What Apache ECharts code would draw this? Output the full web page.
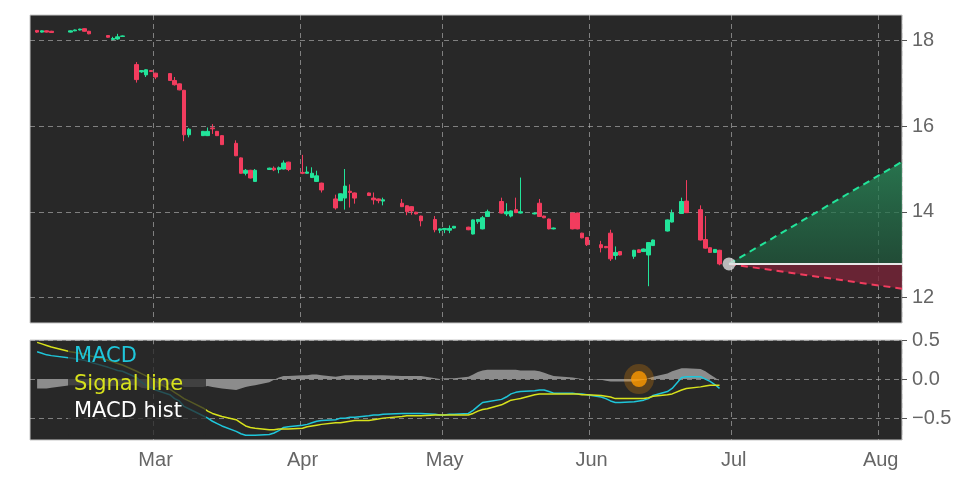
<!doctype html>
<html>
<head>
<meta charset="utf-8" />
<title>Price and MACD</title>
<script src="https://cdn.jsdelivr.net/npm/echarts@6/dist/echarts.min.js"></script>
<style>
  html, body { margin: 0; padding: 0; background: #fff; }
  #main { width: 972px; height: 486px; }
</style>
</head>
<body>
<div id="main"></div>
<script>
// trading days (2024) and candles [open, close, low, high]
var tradeDays = [
  '02-05','02-06','02-07','02-08','02-12','02-13','02-14','02-15','02-16',
  '02-20','02-21','02-22','02-23','02-26','02-27','02-28','02-29','03-01',
  '03-04','03-05','03-06','03-07','03-08','03-11','03-12','03-13','03-14','03-15',
  '03-18','03-19','03-20','03-21','03-22','03-25','03-26','03-27','03-28','03-29',
  '04-01','04-02','04-03','04-04','04-05','04-08','04-09','04-10','04-11','04-12',
  '04-15','04-16','04-17','04-18','04-22','04-23','04-24','04-25','04-26',
  '04-29','04-30','05-01','05-02','05-03','05-06','05-07','05-08','05-09','05-10',
  '05-13','05-14','05-15','05-16','05-17','05-20','05-21','05-22','05-23','05-24',
  '05-28','05-29','05-30','05-31','06-03','06-04','06-05','06-06','06-07',
  '06-10','06-11','06-12','06-13','06-14','06-17','06-18','06-20','06-21',
  '06-24','06-25','06-26','06-27','06-28'
];
var candles = [
  [18.24,18.20,18.18,18.25],[18.20,18.23,18.19,18.24],[18.23,18.20,18.19,18.24],[18.22,18.19,18.18,18.23],
  [18.20,18.23,18.19,18.24],[18.23,18.25,18.22,18.26],[18.25,18.27,18.24,18.28],[18.28,18.22,18.21,18.29],[18.22,18.16,18.15,18.23],
  [18.12,18.08,18.07,18.13],[18.03,18.05,18.01,18.09],[18.04,18.09,18.02,18.16],[18.10,18.11,18.09,18.12],
  [17.44,17.09,17.02,17.50],[17.27,17.30,17.25,17.31],[17.20,17.32,17.15,17.33],[17.30,17.28,17.27,17.31],[17.24,17.15,17.10,17.25],
  [17.23,17.07,17.06,17.24],[17.07,16.97,16.95,17.15],[16.99,16.85,16.84,17.00],[16.84,15.80,15.65,16.85],[15.80,15.93,15.74,15.96],
  [15.78,15.88,15.77,15.89],[15.78,15.88,15.77,15.97],[15.96,15.94,15.82,16.05],[15.88,15.78,15.77,15.89],[15.78,15.57,15.56,15.79],
  [15.60,15.31,15.30,15.67],[15.26,14.90,14.89,15.27],[14.90,14.97,14.85,15.00],[14.97,14.79,14.78,14.98],[14.71,14.97,14.70,15.00],
  [14.99,15.02,14.98,15.03],[15.02,14.98,14.95,15.06],[14.99,15.03,14.90,15.06],[15.00,15.14,14.99,15.20],[15.16,14.99,14.95,15.17],
  [14.92,14.90,14.88,15.33],[14.90,14.93,14.89,15.06],[14.80,14.90,14.79,15.04],[14.71,14.84,14.70,14.96],[14.67,14.51,14.45,14.68],
  [14.30,14.09,14.05,14.40],[14.26,14.42,14.25,14.43],[14.32,14.60,14.05,15.00],[14.48,14.45,14.10,14.64],[14.44,14.32,14.19,14.45],
  [14.44,14.38,14.37,14.45],[14.32,14.28,14.17,14.45],[14.30,14.26,14.20,14.31],[14.25,14.28,14.15,14.33],
  [14.20,14.12,14.11,14.30],[14.14,14.00,13.92,14.15],[14.12,14.02,13.93,14.13],[13.99,13.95,13.94,14.00],[13.90,13.79,13.66,13.91],
  [13.82,13.58,13.52,13.90],[13.57,13.60,13.50,13.61],[13.58,13.61,13.50,13.62],[13.57,13.61,13.50,13.68],[13.62,13.66,13.61,13.67],
  [13.64,13.58,13.57,13.65],[13.48,13.81,13.47,13.82],[13.77,13.82,13.72,13.83],[13.60,13.86,13.59,13.90],[13.89,14.00,13.88,14.05],
  [14.24,13.97,13.96,14.33],[13.95,14.00,13.90,14.20],[13.90,14.02,13.87,14.03],[14.05,13.98,13.97,14.33],[13.97,14.00,13.96,14.80],
  [13.95,13.97,13.94,13.98],[14.20,13.89,13.88,14.30],[13.90,13.86,13.85,13.91],[13.83,13.60,13.59,13.84],[13.60,13.62,13.59,13.63],
  [13.97,13.60,13.59,13.98],[13.97,13.60,13.59,13.98],[13.50,13.39,13.38,13.51],[13.40,13.23,13.20,13.41],
  [13.23,13.16,13.05,13.32],[13.19,13.16,13.15,13.20],[13.50,12.90,12.85,13.58],[12.98,13.05,12.88,13.19],[13.07,12.99,12.98,13.08],
  [12.96,13.10,12.90,13.11],[13.11,13.05,13.04,13.12],[13.07,13.13,13.06,13.14],[12.99,13.28,12.26,13.29],[13.21,13.34,13.20,13.35],
  [13.55,13.81,13.54,13.82],[13.76,13.97,13.75,14.05],[13.96,14.24,13.95,14.33],[14.25,13.98,13.97,14.74],
  [14.05,13.34,13.33,14.15],[13.35,13.15,13.14,13.90],[13.16,13.05,13.04,13.17],[13.05,13.12,13.04,13.13],[13.10,12.78,12.75,13.11]
];
var macd = [
  0.35,0.33,0.31,0.30, 0.27,0.26,0.25,0.24,0.22, 0.15,0.13,0.11,0.10,
  0.02,-0.04,-0.08,-0.11,-0.14, -0.20,-0.25,-0.28,-0.35,-0.38, -0.47,-0.50,-0.54,-0.57,-0.60,
  -0.67,-0.70,-0.72,-0.72,-0.72, -0.71,-0.69,-0.66,-0.62,-0.61, -0.59,-0.58,-0.56,-0.54,-0.53,
  -0.52,-0.50,-0.50,-0.49,-0.49, -0.47,-0.46,-0.46,-0.45, -0.44,-0.44,-0.44,-0.44,-0.44,
  -0.45,-0.46,-0.46,-0.45,-0.45, -0.44,-0.40,-0.35,-0.30,-0.29, -0.26,-0.23,-0.19,-0.17,-0.16,
  -0.15,-0.14,-0.14,-0.16,-0.18, -0.18,-0.19,-0.19,-0.20, -0.23,-0.25,-0.28,-0.30,-0.30,
  -0.29,-0.28,-0.27,-0.25,-0.21, -0.16,-0.12,0.02,0.03, 0.03,0.00,-0.03,-0.07,-0.12
];
var signal = [
  0.47,0.45,0.43,0.41, 0.35,0.34,0.33,0.32,0.30, 0.24,0.22,0.20,0.18,
  0.10,0.07,0.04,0.01,-0.03, -0.13,-0.17,-0.21,-0.25,-0.28, -0.37,-0.41,-0.44,-0.46,-0.48,
  -0.52,-0.56,-0.60,-0.62,-0.63, -0.65,-0.65,-0.64,-0.64,-0.64, -0.63,-0.61,-0.60,-0.59,-0.58,
  -0.56,-0.56,-0.55,-0.54,-0.53, -0.53,-0.52,-0.51,-0.50, -0.48,-0.47,-0.47,-0.47,-0.47,
  -0.46,-0.46,-0.46,-0.46,-0.46, -0.46,-0.44,-0.41,-0.39,-0.38, -0.33,-0.30,-0.27,-0.26,-0.25,
  -0.20,-0.19,-0.19,-0.19,-0.19, -0.19,-0.19,-0.20,-0.20, -0.21,-0.22,-0.23,-0.25,-0.25,
  -0.25,-0.25,-0.25,-0.24,-0.22, -0.20,-0.19,-0.14,-0.12, -0.10,-0.09,-0.08,-0.08,-0.08
];
var hist = [
  -0.12,-0.12,-0.12,-0.11, -0.08,-0.08,-0.08,-0.08,-0.08, -0.09,-0.09,-0.09,-0.08,
  -0.08,-0.11,-0.12,-0.12,-0.11, -0.07,-0.08,-0.07,-0.10,-0.10, -0.10,-0.09,-0.10,-0.11,-0.12,
  -0.14,-0.12,-0.10,-0.09,-0.08, -0.04,-0.01,0.02,0.04,0.04, 0.05,0.05,0.06,0.06,0.05,
  0.03,0.04,0.05,0.05,0.05, 0.05,0.05,0.05,0.05, 0.04,0.04,0.04,0.04,0.04,
  0.01,0.00,0.01,0.01,0.01, 0.03,0.06,0.09,0.11,0.12, 0.12,0.12,0.12,0.12,0.11,
  0.11,0.10,0.08,0.06,0.04, 0.02,0.01,0.00,0.00, -0.01,-0.02,-0.03,-0.03,-0.03,
  -0.03,-0.02,-0.01,0.01,0.03, 0.07,0.10,0.14,0.14, 0.13,0.10,0.06,0.02,-0.02
];
// projection from last close
var projStart = '06-30', projEnd = '08-05';
var projBase = 12.78, projHigh = 15.17, projLow = 12.2;
var crossDay = '06-11', crossValue = 0;
var monthNames = {'03':'Mar','04':'Apr','05':'May','06':'Jun','07':'Jul','08':'Aug'};

// calendar categories Feb 4 .. Aug 5
var days = [];
var d = new Date(Date.UTC(2024, 1, 4));
var endD = new Date(Date.UTC(2024, 7, 5));
while (d <= endD) {
  days.push(('0' + (d.getUTCMonth() + 1)).slice(-2) + '-' + ('0' + d.getUTCDate()).slice(-2));
  d.setUTCDate(d.getUTCDate() + 1);
}
function spread(vals, fill) {
  var out = days.map(function () { return fill; });
  tradeDays.forEach(function (t, i) { out[days.indexOf(t)] = vals[i]; });
  return out;
}
function isMonthStart(i) { return !!(days[i] && days[i].slice(3) === '01' && monthNames[days[i].slice(0, 2)]); }

var green = '#22e49a', red = '#f23c5e', grid = 'rgba(200,200,200,0.55)';
var iS = days.indexOf(projStart), iE = days.indexOf(projEnd);

function xAxisFor(gi, showLabel) {
  return {
    type: 'category', data: days, boundaryGap: true, gridIndex: gi,
    axisLine: { show: false },
    axisTick: { interval: isMonthStart, length: 5, lineStyle: { color: '#555' } },
    splitLine: { show: true, interval: isMonthStart, lineStyle: { color: grid, type: [5, 4] } },
    axisLabel: { show: showLabel, interval: isMonthStart, color: '#666', fontSize: 20, margin: 10,
      formatter: function (v) { return monthNames[v.slice(0, 2)] || ''; } }
  };
}

var chart = echarts.init(document.getElementById('main'));
chart.setOption({
  backgroundColor: '#fff',
  animation: false,
  grid: [
    { left: 30, right: 70, top: 15, height: 308, show: true, backgroundColor: '#282828', borderColor: '#c8c8c8', borderWidth: 1 },
    { left: 30, right: 70, top: 340, height: 100, show: true, backgroundColor: '#282828', borderColor: '#c8c8c8', borderWidth: 1 }
  ],
  xAxis: [xAxisFor(0, false), xAxisFor(1, true)],
  yAxis: [
    { gridIndex: 0, position: 'right', min: 11.4, max: 18.6,
      axisLine: { show: false },
      axisTick: { show: true, customValues: [12, 14, 16, 18], length: 5, lineStyle: { color: '#555' } },
      axisLabel: { customValues: [12, 14, 16, 18], color: '#666', fontSize: 20, margin: 10 },
      splitLine: { show: true, lineStyle: { color: grid, type: [5, 4] } } },
    { gridIndex: 1, position: 'right', min: -0.78, max: 0.5,
      axisLine: { show: false },
      axisTick: { show: true, customValues: [-0.5, 0, 0.5], length: 5, lineStyle: { color: '#555' } },
      axisLabel: { customValues: [-0.5, 0, 0.5], color: '#666', fontSize: 20, margin: 10,
        formatter: function (v) { return v < 0 ? '\u2212' + Math.abs(v).toFixed(1) : v.toFixed(1); } },
      splitLine: { show: true, lineStyle: { color: grid, type: [5, 4] } } }
  ],
  series: [
    { type: 'custom', xAxisIndex: 0, yAxisIndex: 0, silent: true, z: 1,
      data: [[iS, iE, projBase, projHigh, projLow]],
      renderItem: function (params, api) {
        var a = api.coord([api.value(0), api.value(2)]);
        var b = api.coord([api.value(1), api.value(3)]);
        var c = api.coord([api.value(1), api.value(2)]);
        var e = api.coord([api.value(1), api.value(4)]);
        b[0] = c[0] = e[0] = params.coordSys.x + params.coordSys.width;
        return { type: 'group', children: [
          { type: 'polygon', shape: { points: [a, b, c] }, style: { fill: new echarts.graphic.LinearGradient(0, 0, 0, 1,
            [{ offset: 0, color: 'rgba(40,140,90,0.75)' }, { offset: 1, color: 'rgba(30,90,60,0.7)' }]) } },
          { type: 'polygon', shape: { points: [a, c, e] }, style: { fill: 'rgba(120,35,55,0.8)' } },
          { type: 'line', shape: { x1: a[0], y1: a[1], x2: b[0], y2: b[1] }, style: { stroke: green, lineWidth: 2, lineDash: [7, 5] } },
          { type: 'line', shape: { x1: a[0], y1: a[1], x2: e[0], y2: e[1] }, style: { stroke: red, lineWidth: 2, lineDash: [7, 5] } },
          { type: 'line', shape: { x1: a[0], y1: a[1], x2: c[0], y2: c[1] }, style: { stroke: '#e8e8e8', lineWidth: 2 } }
        ] };
      } },
    { type: 'candlestick', xAxisIndex: 0, yAxisIndex: 0, barWidth: 4, z: 3,
      data: spread(candles, ['-', '-', '-', '-']),
      itemStyle: { color: green, color0: red, borderColor: green, borderColor0: red, borderWidth: 1 } },
    { type: 'scatter', xAxisIndex: 0, yAxisIndex: 0, z: 5, symbolSize: 13,
      data: [[iS, projBase]], itemStyle: { color: '#dedede' } },
    { type: 'line', xAxisIndex: 1, yAxisIndex: 1, name: 'MACD hist', data: spread(hist, '-'), connectNulls: true,
      symbol: 'none', lineStyle: { width: 0 }, itemStyle: { color: '#999' }, areaStyle: { color: '#8c8c8c', origin: 0, opacity: 1 } },
    { type: 'line', xAxisIndex: 1, yAxisIndex: 1, name: 'MACD', data: spread(macd, '-'), connectNulls: true,
      symbol: 'none', lineStyle: { width: 1.5, color: '#1fc6da' } },
    { type: 'line', xAxisIndex: 1, yAxisIndex: 1, name: 'Signal line', data: spread(signal, '-'), connectNulls: true,
      symbol: 'none', lineStyle: { width: 1.5, color: '#d8e21c' } },
    { type: 'scatter', xAxisIndex: 1, yAxisIndex: 1, z: 5, symbolSize: 30,
      data: [[days.indexOf(crossDay), crossValue]], itemStyle: { color: 'rgba(255,150,0,0.3)' } },
    { type: 'scatter', xAxisIndex: 1, yAxisIndex: 1, z: 6, symbolSize: 16,
      data: [[days.indexOf(crossDay), crossValue]], itemStyle: { color: '#ff9a00' } }
  ],
  graphic: [
    { type: 'rect', left: 68, top: 344, shape: { width: 138, height: 92, r: 3 }, style: { fill: 'rgba(40,40,40,0.75)' }, z: 10 },
    { type: 'text', left: 74, top: 346, style: { text: 'MACD', fill: '#1fc6da', font: '21px "DejaVu Sans"' }, z: 11 },
    { type: 'text', left: 74, top: 374, style: { text: 'Signal line', fill: '#d8e21c', font: '21px "DejaVu Sans"' }, z: 11 },
    { type: 'text', left: 74, top: 401, style: { text: 'MACD hist', fill: '#ffffff', font: '21px "DejaVu Sans"' }, z: 11 }
  ]
});
</script>
</body>
</html>
